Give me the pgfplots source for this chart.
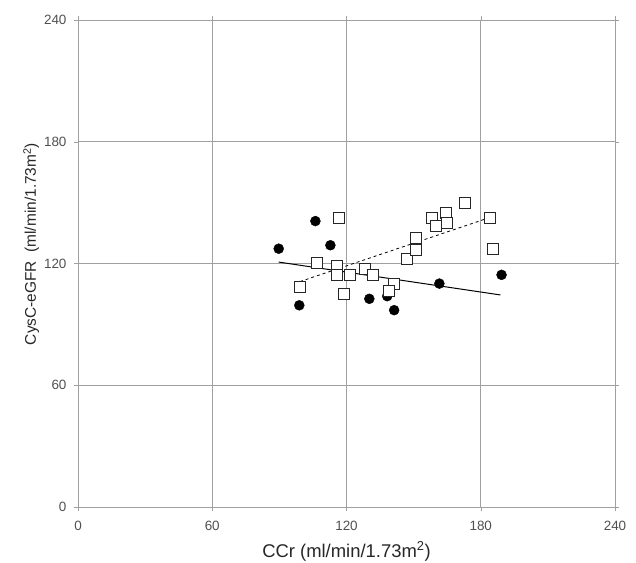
\documentclass[border=0pt]{standalone}
\usepackage{pgfplots}
\pgfplotsset{compat=1.18}
\usepackage{fontspec}
\setmainfont{Liberation Sans}
\definecolor{gridgray}{RGB}{160,160,160}
\definecolor{ticktext}{RGB}{80,80,80}

\begin{document}
\begin{tikzpicture}
\useasboundingbox (-78bp,-56bp) rectangle (558bp,507bp);
\begin{axis}[
    at={(0,0)}, anchor=south west,
    scale only axis,
    width=537bp, height=487bp,
    xmin=0, xmax=240, ymin=0, ymax=240,
    xtick={0,60,120,180,240},
    ytick={0,60,120,180,240},
    grid=major,
    grid style={gridgray, line width=0.8pt},
    axis line style={gridgray, line width=0.8pt},
    tick style={gridgray},
    tick align=outside,
    major tick length=4bp,
    ticklabel style={font=\fontsize{13.5}{15}\selectfont, text=ticktext},
    xticklabel style={yshift=-7bp},
    yticklabel style={xshift=-4bp},
    /pgf/number format/assume math mode=true,
    xlabel={CCr (ml/min/1.73m\textsuperscript{2})},
    ylabel={CysC-eGFR\ \ (ml/min/1.73m\textsuperscript{2})},
    label style={text=black!85},
    xlabel style={font=\fontsize{18.5}{20}\selectfont, yshift=-4bp},
    ylabel style={font=\fontsize{15.5}{18}\selectfont, at={(ticklabel cs:0.54)}, yshift=-2bp},
    clip=false,
]
% regression lines
\addplot[black, line width=1pt] coordinates {(89.7,120.7) (188.8,104.5)};
\addplot[black, dashed, line width=0.8pt] coordinates {(99.2,111.1) (183.9,142.6)};

% filled circles
\addplot[only marks, mark=*, mark size=5bp, black] coordinates {
    (89.7,127.3) (106.1,140.9) (112.8,129.0) (98.9,99.4) (130.2,102.6)
    (138.2,103.9) (141.3,97.0) (161.5,110.1) (189.3,114.4)
};
% open squares
\addplot[only marks, mark=square*, mark size=5.5bp,
    mark options={fill=white, draw=black!85, line width=0.8pt}] coordinates {
    (116.5,142.6) (99.2,108.6) (106.9,120.5) (115.8,119.0) (115.6,114.2)
    (121.5,114.2) (118.7,105.0) (128.3,117.5) (131.7,114.2) (141.1,110.0)
    (139.0,106.3) (146.9,122.1) (151.2,126.9) (150.8,132.5) (158.0,142.6)
    (159.9,138.4) (164.4,145.0) (164.9,140.1) (172.9,149.8) (183.9,142.6)
    (185.5,127.3)
};
\end{axis}
\end{tikzpicture}
\end{document}
